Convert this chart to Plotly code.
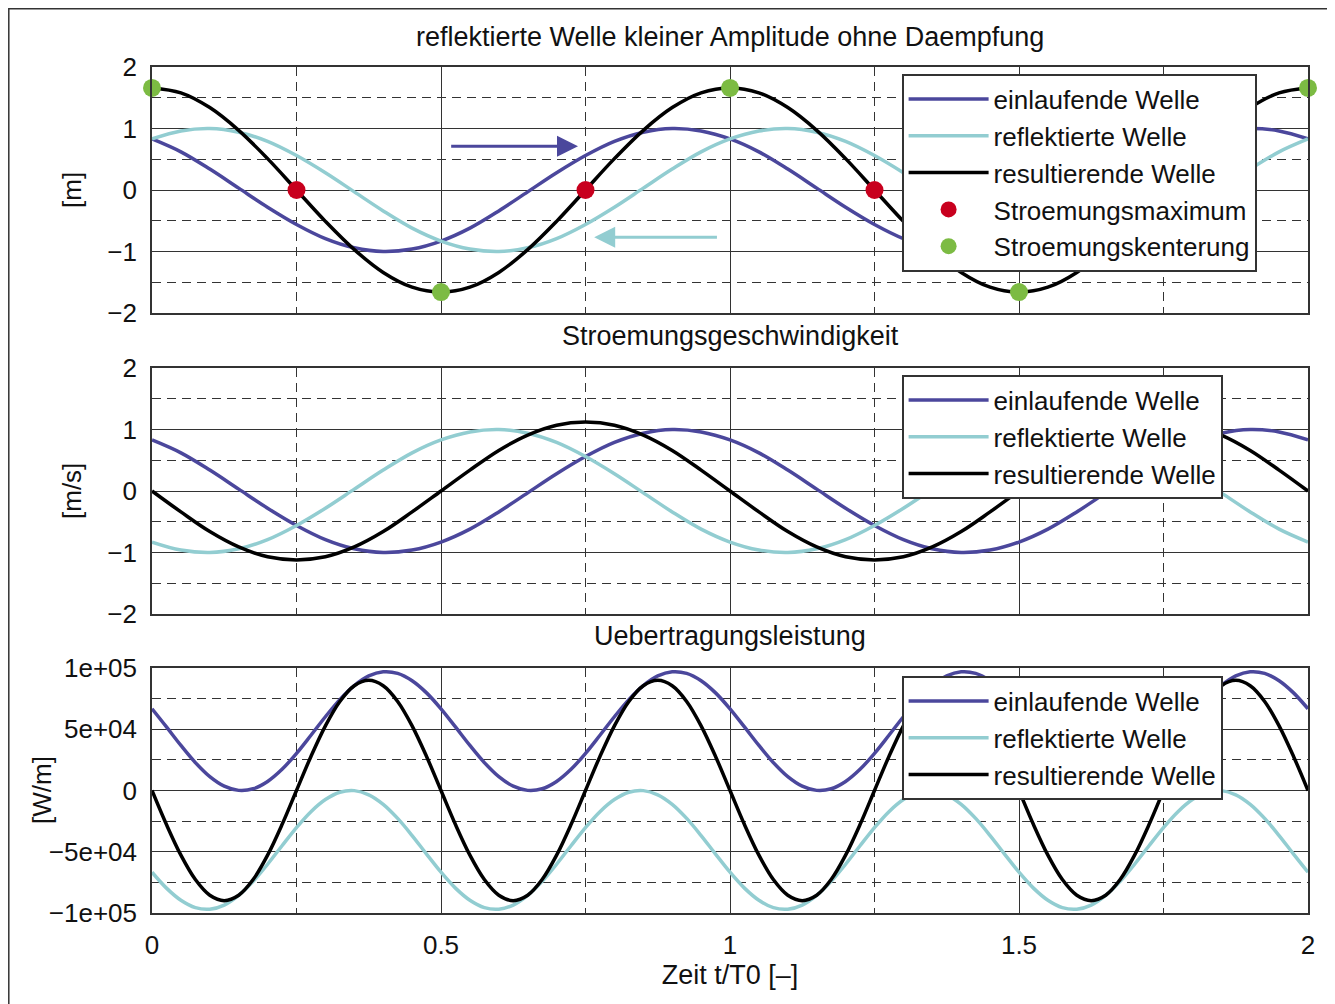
import plotly.graph_objects as go
from plotly.subplots import make_subplots

# ---------------- data ----------------
t = [0.00, 0.05, 0.10, 0.15, 0.20, 0.25, 0.30, 0.35, 0.40, 0.45,
     0.50, 0.55, 0.60, 0.65, 0.70, 0.75, 0.80, 0.85, 0.90, 0.95,
     1.00, 1.05, 1.10, 1.15, 1.20, 1.25, 1.30, 1.35, 1.40, 1.45,
     1.50, 1.55, 1.60, 1.65, 1.70, 1.75, 1.80, 1.85, 1.90, 1.95, 2.00]

# surface elevation [m]
eta_in = [0.83, 0.62, 0.34, 0.03, -0.28, -0.56, -0.79, -0.94, -1.00, -0.96,
          -0.83, -0.62, -0.34, -0.03, 0.28, 0.56, 0.79, 0.94, 1.00, 0.96,
          0.83, 0.62, 0.34, 0.03, -0.28, -0.56, -0.79, -0.94, -1.00, -0.96,
          -0.83, -0.62, -0.34, -0.03, 0.28, 0.56, 0.79, 0.94, 1.00, 0.96, 0.83]
eta_ref = [0.83, 0.96, 1.00, 0.94, 0.79, 0.56, 0.28, -0.03, -0.34, -0.62,
           -0.83, -0.96, -1.00, -0.94, -0.79, -0.56, -0.28, 0.03, 0.34, 0.62,
           0.83, 0.96, 1.00, 0.94, 0.79, 0.56, 0.28, -0.03, -0.34, -0.62,
           -0.83, -0.96, -1.00, -0.94, -0.79, -0.56, -0.28, 0.03, 0.34, 0.62, 0.83]
eta_res = [1.66, 1.58, 1.34, 0.97, 0.51, 0.00, -0.51, -0.97, -1.34, -1.58,
           -1.66, -1.58, -1.34, -0.97, -0.51, 0.00, 0.51, 0.97, 1.34, 1.58,
           1.66, 1.58, 1.34, 0.97, 0.51, 0.00, -0.51, -0.97, -1.34, -1.58,
           -1.66, -1.58, -1.34, -0.97, -0.51, 0.00, 0.51, 0.97, 1.34, 1.58, 1.66]

# flow velocity [m/s]
u_in = [0.83, 0.62, 0.34, 0.03, -0.28, -0.56, -0.79, -0.94, -1.00, -0.96,
        -0.83, -0.62, -0.34, -0.03, 0.28, 0.56, 0.79, 0.94, 1.00, 0.96,
        0.83, 0.62, 0.34, 0.03, -0.28, -0.56, -0.79, -0.94, -1.00, -0.96,
        -0.83, -0.62, -0.34, -0.03, 0.28, 0.56, 0.79, 0.94, 1.00, 0.96, 0.83]
u_ref = [-0.83, -0.96, -1.00, -0.94, -0.79, -0.56, -0.28, 0.03, 0.34, 0.62,
         0.83, 0.96, 1.00, 0.94, 0.79, 0.56, 0.28, -0.03, -0.34, -0.62,
         -0.83, -0.96, -1.00, -0.94, -0.79, -0.56, -0.28, 0.03, 0.34, 0.62,
         0.83, 0.96, 1.00, 0.94, 0.79, 0.56, 0.28, -0.03, -0.34, -0.62, -0.83]
u_res = [0.00, -0.34, -0.66, -0.91, -1.07, -1.12, -1.07, -0.91, -0.66, -0.34,
         0.00, 0.34, 0.66, 0.91, 1.07, 1.12, 1.07, 0.91, 0.66, 0.34,
         0.00, -0.34, -0.66, -0.91, -1.07, -1.12, -1.07, -0.91, -0.66, -0.34,
         0.00, 0.34, 0.66, 0.91, 1.07, 1.12, 1.07, 0.91, 0.66, 0.34, 0.00]

# transmitted power [W/m] (finer time grid, power oscillates twice as fast)
t_p = [0.000, 0.025, 0.050, 0.075, 0.100, 0.125, 0.150, 0.175, 0.200, 0.225,
       0.250, 0.275, 0.300, 0.325, 0.350, 0.375, 0.400, 0.425, 0.450, 0.475,
       0.500, 0.525, 0.550, 0.575, 0.600, 0.625, 0.650, 0.675, 0.700, 0.725,
       0.750, 0.775, 0.800, 0.825, 0.850, 0.875, 0.900, 0.925, 0.950, 0.975,
       1.000, 1.025, 1.050, 1.075, 1.100, 1.125, 1.150, 1.175, 1.200, 1.225,
       1.250, 1.275, 1.300, 1.325, 1.350, 1.375, 1.400, 1.425, 1.450, 1.475,
       1.500, 1.525, 1.550, 1.575, 1.600, 1.625, 1.650, 1.675, 1.700, 1.725,
       1.750, 1.775, 1.800, 1.825, 1.850, 1.875, 1.900, 1.925, 1.950, 1.975, 2.000]
p_in = [66700, 51900, 36800, 22800, 11300, 3500, 100, 1400, 7400, 17300,
        30300, 45100, 60200, 74200, 85600, 93500, 96900, 95600, 89600, 79700,
        66700, 51900, 36800, 22800, 11300, 3500, 100, 1400, 7400, 17300,
        30300, 45100, 60200, 74200, 85600, 93500, 96900, 95600, 89600, 79700,
        66700, 51900, 36800, 22800, 11300, 3500, 100, 1400, 7400, 17300,
        30300, 45100, 60200, 74200, 85600, 93500, 96900, 95600, 89600, 79700,
        66700, 51900, 36800, 22800, 11300, 3500, 100, 1400, 7400, 17300,
        30300, 45100, 60200, 74200, 85600, 93500, 96900, 95600, 89600, 79700, 66700]
p_ref = [-66700, -79700, -89600, -95600, -96900, -93500, -85600, -74200, -60200, -45100,
         -30300, -17300, -7400, -1400, -100, -3500, -11300, -22800, -36800, -51900,
         -66700, -79700, -89600, -95600, -96900, -93500, -85600, -74200, -60200, -45100,
         -30300, -17300, -7400, -1400, -100, -3500, -11300, -22800, -36800, -51900,
         -66700, -79700, -89600, -95600, -96900, -93500, -85600, -74200, -60200, -45100,
         -30300, -17300, -7400, -1400, -100, -3500, -11300, -22800, -36800, -51900,
         -66700, -79700, -89600, -95600, -96900, -93500, -85600, -74200, -60200, -45100,
         -30300, -17300, -7400, -1400, -100, -3500, -11300, -22800, -36800, -51900, -66700]
p_res = [0, -27800, -52800, -72700, -85500, -89900, -85500, -72700, -52800, -27800,
         0, 27800, 52800, 72700, 85500, 89900, 85500, 72700, 52800, 27800,
         0, -27800, -52800, -72700, -85500, -89900, -85500, -72700, -52800, -27800,
         0, 27800, 52800, 72700, 85500, 89900, 85500, 72700, 52800, 27800,
         0, -27800, -52800, -72700, -85500, -89900, -85500, -72700, -52800, -27800,
         0, 27800, 52800, 72700, 85500, 89900, 85500, 72700, 52800, 27800,
         0, -27800, -52800, -72700, -85500, -89900, -85500, -72700, -52800, -27800,
         0, 27800, 52800, 72700, 85500, 89900, 85500, 72700, 52800, 27800, 0]

# special points
t_max = [0.25, 0.75, 1.25, 1.75]
y_max = [0, 0, 0, 0]
t_kent = [0, 0.5, 1.0, 1.5, 2.0]
y_kent = [1.66, -1.66, 1.66, -1.66, 1.66]

series_names = ["einlaufende Welle", "reflektierte Welle", "resultierende Welle"]
power_tickvals = [-100000, -50000, 0, 50000, 100000]
power_ticktext = ["\u22121e+05", "\u22125e+04", "0", "5e+04", "1e+05"]
x_tickvals = [0, 0.5, 1, 1.5, 2]
x_ticktext = ["0", "0.5", "1", "1.5", "2"]

titles = ["reflektierte Welle kleiner Amplitude ohne Daempfung",
          "Stroemungsgeschwindigkeit", "Uebertragungsleistung"]
ytitles = ["[m]", "[m/s]", "[W/m]"]

# ---------------- styling ----------------
C_IN = "#4b479c"
C_REF = "#92cdd1"
C_RES = "#000000"
C_RED = "#c8001e"
C_GREEN = "#7cbb43"
GRID = "#333333"
FONT = "Liberation Sans, Arial, sans-serif"
FS = 26
LW = 3.5
DASH = "9px,6px"

fig = make_subplots(rows=3, cols=1, shared_xaxes=True)

panels = [(t, eta_in, eta_ref, eta_res), (t, u_in, u_ref, u_res), (t_p, p_in, p_ref, p_res)]
legend_ids = ["legend", "legend2", "legend3"]
for i, (tx, a, b, c) in enumerate(panels):
    row = i + 1
    for name, ys, col in zip(series_names, (a, b, c), (C_IN, C_REF, C_RES)):
        fig.add_trace(go.Scatter(x=tx, y=ys, mode="lines", name=name,
                                 line=dict(color=col, width=LW, shape="spline", smoothing=1.0),
                                 legend=legend_ids[i]), row=row, col=1)
    if i == 0:
        fig.add_trace(go.Scatter(x=t_max, y=y_max, mode="markers", name="Stroemungsmaximum",
                                 marker=dict(color=C_RED, size=18), cliponaxis=False,
                                 legend="legend"), row=1, col=1)
        fig.add_trace(go.Scatter(x=t_kent, y=y_kent, mode="markers", name="Stroemungskenterung",
                                 marker=dict(color=C_GREEN, size=18), cliponaxis=False,
                                 legend="legend"), row=1, col=1)

# the page has an 8px body margin: figure is 1327x996, placed at (8, 8)
H = 846.0
def dom(top_px, bot_px):
    return [(913 - bot_px) / H, (913 - top_px) / H]

axis_common = dict(showline=True, linecolor=GRID, linewidth=1.6, mirror=True,
                   showgrid=True, gridcolor=GRID, gridwidth=1.4, zeroline=False,
                   ticks="outside", ticklen=8, tickcolor="rgba(0,0,0,0)",
                   tickfont=dict(family=FONT, size=FS, color="#111"))
minor_y = dict(showgrid=True, gridcolor=GRID, griddash=DASH, gridwidth=1.4)

fig.update_layout(
    yaxis=dict(domain=dom(67, 313), range=[-2, 2], tickvals=[-2, -1, 0, 1, 2],
               ticktext=["\u22122", "\u22121", "0", "1", "2"],
               minor=dict(tickvals=[-1.5, -0.5, 0.5, 1.5], **minor_y), **axis_common),
    yaxis2=dict(domain=dom(368, 614), range=[-2, 2], tickvals=[-2, -1, 0, 1, 2],
                ticktext=["\u22122", "\u22121", "0", "1", "2"],
                minor=dict(tickvals=[-1.5, -0.5, 0.5, 1.5], **minor_y), **axis_common),
    yaxis3=dict(domain=dom(668, 913), range=[-100000, 100000], tickvals=power_tickvals,
                ticktext=power_ticktext,
                minor=dict(tickvals=[-75000, -25000, 25000, 75000], **minor_y), **axis_common),
)
for k in ["xaxis", "xaxis2", "xaxis3"]:
    fig.layout[k].update(range=[0, 2], tickvals=x_tickvals, ticktext=x_ticktext,
                         minor=dict(tickvals=[0.25, 0.75, 1.25, 1.75], **minor_y),
                         **axis_common)
fig.layout.xaxis.showticklabels = False
fig.layout.xaxis2.showticklabels = False
fig.layout.xaxis3.update(title=dict(text="Zeit t/T0 [\u2013]", standoff=6,
                                    font=dict(family=FONT, size=27, color="#111")))

leg_common = dict(font=dict(family=FONT, size=26, color="#111"), bgcolor="white",
                  bordercolor=GRID, borderwidth=1.6, xanchor="left", yanchor="top",
                  itemwidth=80, tracegroupgap=0)
fig.update_layout(
    legend=dict(x=(902 - 152) / 1156, y=(913 - 74) / H, **leg_common),
    legend2=dict(x=(902 - 152) / 1156, y=(913 - 375) / H, **leg_common),
    legend3=dict(x=(902 - 152) / 1156, y=(913 - 676) / H, **leg_common),
)

# subplot titles and y-axis titles
title_y = [37, 336, 636]
for txt, ypx in zip(titles, title_y):
    fig.add_annotation(text=txt, xref="paper", yref="paper", x=0.5, y=(913 - ypx) / H,
                       xanchor="center", yanchor="middle", showarrow=False,
                       font=dict(family=FONT, size=27, color="#111"))
ytitle_pos = [(72, 190), (72, 491), (42, 790)]
for txt, (xp, yp) in zip(ytitles, ytitle_pos):
    fig.add_annotation(text=txt, xref="paper", yref="paper", x=(xp - 152) / 1156,
                       y=(913 - yp) / H, textangle=-90, xanchor="center", yanchor="middle",
                       showarrow=False, font=dict(family=FONT, size=FS, color="#111"))

# direction arrows in top panel
fig.add_annotation(x=0.737, y=0.71, ax=0.515, ay=0.71, xref="x", yref="y", axref="x", ayref="y",
                   text="", showarrow=True, arrowhead=2, arrowsize=1.4, arrowwidth=3,
                   arrowcolor=C_IN)
fig.add_annotation(x=0.765, y=-0.77, ax=0.98, ay=-0.77, xref="x", yref="y", axref="x", ayref="y",
                   text="", showarrow=True, arrowhead=2, arrowsize=1.4, arrowwidth=3,
                   arrowcolor=C_REF)

# outer frame
fig.add_shape(type="rect", xref="paper", yref="paper",
              x0=(8.8 - 152) / 1156, x1=(1328 - 152) / 1156,
              y0=(913 - 1015) / H, y1=(913 - 8.8) / H,
              line=dict(color=GRID, width=1.5), fillcolor="rgba(0,0,0,0)", layer="below")

fig.update_layout(width=1327, height=996, autosize=False,
                  margin=dict(l=144, r=27, t=59, b=91),
                  paper_bgcolor="white", plot_bgcolor="white",
                  font=dict(family=FONT, size=FS, color="#111"))

fig.write_html("out.html")
